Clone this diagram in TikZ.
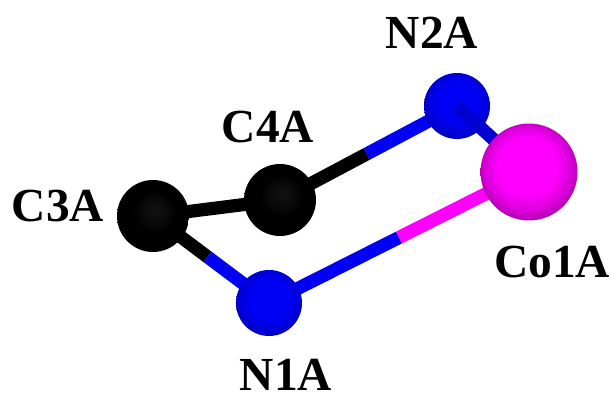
\documentclass[tikz,border=0pt]{standalone}
\usepackage{fontspec}
\setmainfont{Liberation Serif}
\usetikzlibrary{calc}
\usetikzlibrary{backgrounds}

\definecolor{copink}{RGB}{255,0,255}
\definecolor{nblue}{RGB}{0,0,245}

\pgfdeclarelayer{foreground}
\pgfsetlayers{background,main,foreground}

\pgfdeclareradialshading{pinkball}{\pgfpoint{-2bp}{6bp}}{color(0bp)=(copink); color(15bp)=(copink); color(22bp)=(copink!85!black); color(31bp)=(copink!50!black)}
\pgfdeclareradialshading{blueball}{\pgfpoint{1bp}{7bp}}{color(0bp)=(nblue); color(15bp)=(nblue); color(24bp)=(nblue!85!black); color(32bp)=(nblue!50!black)}
\pgfdeclareradialshading{blackball}{\pgfpoint{2bp}{5bp}}{color(0bp)=(black!93!white); color(8bp)=(black!96!white); color(15bp)=(black); color(30bp)=(black)}

\begin{document}
\begin{tikzpicture}[x=0.02cm,y=-0.02cm]

% Define styles
\tikzset{
    carbon/.style={circle, inner sep=0pt, minimum size=1.44cm, shading=blackball},
    nitrogen/.style={circle, inner sep=0pt, minimum size=1.32cm, shading=blueball},
    cobalt/.style={circle, inner sep=0pt, minimum size=1.94cm, shading=pinkball},
    bond/.style={line width=7.5pt},
    atomlabel/.style={inner sep=0pt, font=\fontsize{27}{30}\selectfont\bfseries}
}

% fix the margins of the reference
\useasboundingbox (0,0) rectangle (611,394);

% Carbon atoms
\node[carbon] (C3) at (153,216) {};
\node[carbon] (C4) at (280,200) {};

% Nitrogen atoms
\node[nitrogen] (N1) at (269,303) {};
\node[nitrogen] (N2) at (457,106) {};

% Cobalt atom
\begin{pgfonlayer}{foreground}
\node[cobalt] (CO) at (529,172) {};
\end{pgfonlayer}

% colour changes on the bonds
\coordinate (M1) at ($(C3)!0.47!(N1)$);
\coordinate (M2) at ($(C4)!0.49!(N2)$);
\coordinate (M3) at ($(N1)!0.50!(CO)$);
\coordinate (M4) at ($(N2)!0.62!(CO)$);

% Bonds behind the atoms
\begin{pgfonlayer}{background}
\draw[bond, black] (C3.center) -- (C4.center);
\draw[bond, black] (C3.center) -- (M1);
\draw[bond, nblue] (M1) -- (N1.center);
\draw[bond, black] (C4.center) -- (M2);
\draw[bond, nblue] (M2) -- (N2.center);
\draw[bond, nblue] (N1.center) -- (M3);
\draw[bond, copink] (M3) -- (CO.center);
\end{pgfonlayer}

% this bond runs in front of N2 and behind Co
\draw[bond, nblue!85!black] (N2.center) -- (M4);
\draw[bond, copink!85!black] (M4) -- (CO.center);

% Atom labels
\node[atomlabel] (LC3) at (58,206) {C3A};
\node[atomlabel] (LC4) at (268,127) {C4A};
\node[atomlabel] (LN1) at (286,375) {N1A};
\node[atomlabel] (LN2) at (432,33) {N2A};
\node[atomlabel] (LCO) at (552,262) {Co1A};

\end{tikzpicture}
\end{document}
